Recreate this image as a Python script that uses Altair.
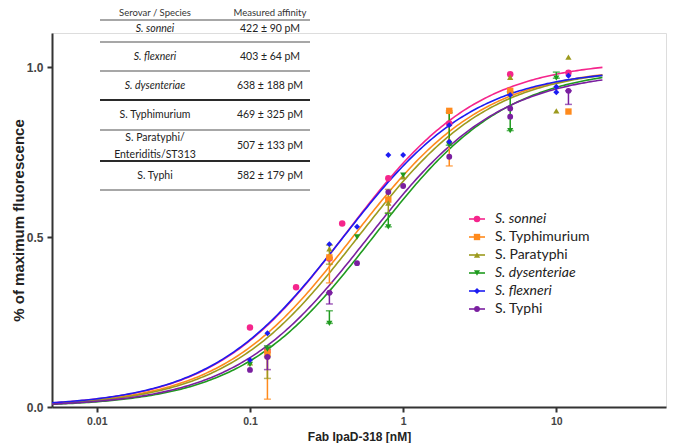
import altair as alt
import numpy as np
import pandas as pd

# ---------------- data ----------------
series = ["S. sonnei", "S. Typhimurium", "S. Paratyphi", "S. dysenteriae", "S. flexneri", "S. Typhi"]
colors = ["#F5258C", "#FF8A1C", "#9C9A1E", "#1F9B1F", "#1C1CF2", "#7A1FA0"]
shapes = ["circle", "square", "triangle-up", "triangle-down", "diamond", "circle"]
marker_sizes = [42, 34, 40, 40, 34, 62]
legend_italic = [True, False, False, True, True, False]

# one-site binding fit: Kd (nM, from the table) and plateau
kd_nM = [0.422, 0.469, 0.507, 0.638, 0.403, 0.582]
bmax = [1.02, 1.0, 1.0, 1.0, 0.995, 0.99]

# measured points (concentration nM, fraction of max fluorescence)
sonnei_conc = [0.1, 0.13, 0.2, 0.33, 0.4, 0.8, 2, 5, 12]
sonnei_val = [0.234, 0.165, 0.352, 0.437, 0.540, 0.673, 0.834, 0.979, 0.983]
typhimurium_conc = [0.13, 0.33, 0.8, 2, 5, 12]
typhimurium_val = [0.16, 0.44, 0.61, 0.871, 0.93, 0.869]
paratyphi_conc = [0.1, 0.13, 0.33, 0.8, 1.0, 2, 5, 10, 12]
paratyphi_val = [0.13, 0.15, 0.465, 0.60, 0.677, 0.785, 0.97, 0.871, 1.029]
dysenteriae_conc = [0.1, 0.13, 0.33, 0.5, 0.8, 1.0, 2, 5, 10]
dysenteriae_val = [0.125, 0.17, 0.246, 0.50, 0.53, 0.682, 0.77, 0.813, 0.967]
flexneri_conc = [0.1, 0.13, 0.33, 0.5, 0.8, 1.0, 2, 2, 5, 10, 10, 12]
flexneri_val = [0.138, 0.217, 0.479, 0.530, 0.741, 0.741, 0.829, 0.78, 0.918, 0.942, 0.926, 0.974]
typhi_conc = [0.1, 0.13, 0.33, 0.5, 0.8, 1.0, 2, 5, 5, 12]
typhi_val = [0.109, 0.147, 0.336, 0.423, 0.632, 0.65, 0.736, 0.878, 0.854, 0.93]

# error bars
err_series = ["S. Typhimurium", "S. Paratyphi", "S. Typhi", "S. dysenteriae",
              "S. Typhimurium", "S. Paratyphi", "S. dysenteriae", "S. Typhi",
              "S. Paratyphi", "S. dysenteriae", "S. Typhimurium", "S. dysenteriae",
              "S. dysenteriae", "S. dysenteriae", "S. Typhi"]
err_conc = [0.13, 0.13, 0.13, 0.13, 0.33, 0.33, 0.33, 0.33, 0.8, 0.8, 2, 2, 5, 10, 12]
err_lo = [0.023, 0.084, 0.11, 0.17, 0.365, 0.42, 0.246, 0.303, 0.57, 0.53, 0.709, 0.77, 0.813, 0.967, 0.89]
err_hi = [0.16, 0.15, 0.147, 0.18, 0.44, 0.476, 0.283, 0.336, 0.64, 0.57, 0.871, 0.866, 0.927, 0.985, 0.93]

# inset table
table_header = ["Serovar / Species", "Measured affinity"]
table_species = ["S. sonnei", "S. flexneri", "S. dysenteriae", "S.  Typhimurium",
                 "S. Paratyphi/\nEnteriditis/ST313", "S. Typhi"]
table_species_italic = [True, True, True, False, False, False]
table_affinity = ["422 ± 90 pM", "403 ± 64 pM", "638 ± 188 pM", "469 ± 325 pM",
                  "507 ± 133 pM", "582 ± 179 pM"]

x_title = "Fab IpaD-318 [nM]"
y_title = "% of maximum fluorescence"
x_ticks = [0.01, 0.1, 1, 10]
y_ticks = [0.0, 0.5, 1.0]

# ---------------- build tables ----------------
W, H = 614, 374
FONT_AX = "Liberation Sans"
FONT_TXT = "Lato"

grid = np.logspace(np.log10(0.0051), np.log10(20), 240)
curve_rows = []
for s, kd, bm in zip(series, kd_nM, bmax):
    for c in grid:
        curve_rows.append({"series": s, "conc": c, "val": bm * c / (kd + c)})
curve_df = pd.DataFrame(curve_rows)

pt_sets = [(sonnei_conc, sonnei_val), (typhimurium_conc, typhimurium_val),
           (paratyphi_conc, paratyphi_val), (dysenteriae_conc, dysenteriae_val),
           (flexneri_conc, flexneri_val), (typhi_conc, typhi_val)]
pts = []
for s, (cs, vs) in zip(series, pt_sets):
    for c, v in zip(cs, vs):
        pts.append({"series": s, "conc": c, "val": v})
pts_df = pd.DataFrame(pts)

err_df = pd.DataFrame({"series": err_series, "conc": err_conc, "lo": err_lo, "hi": err_hi})
cap_df = pd.concat([
    err_df[["series", "conc"]].assign(yv=err_df["lo"]),
    err_df[["series", "conc"]].assign(yv=err_df["hi"]),
])

xscale = alt.Scale(type="log", domain=[0.0051, 52], nice=False)
yscale = alt.Scale(domain=[0, 1.1], nice=False, zero=False)
cscale = alt.Scale(domain=series, range=colors)
shscale = alt.Scale(domain=series, range=shapes)
szscale = alt.Scale(domain=series, range=marker_sizes)

xaxis = alt.Axis(values=x_ticks, format="~g", grid=False, domainColor="#333", domainWidth=2,
                 tickColor="#333", tickWidth=2, tickSize=5, labelFont=FONT_AX, labelFontWeight="bold",
                 labelFontSize=10.5, labelColor="#444", labelPadding=4, labelFlush=False,
                 titleFont=FONT_AX, titleFontWeight="bold", titleFontSize=12, titleColor="#222",
                 titlePadding=5)
yaxis = alt.Axis(values=y_ticks, format=".1f", grid=False, domainColor="#333", domainWidth=2,
                 tickColor="#333", tickWidth=2, tickSize=5, labelFont=FONT_AX, labelFontWeight="bold",
                 labelFontSize=12, labelColor="#444", labelPadding=4,
                 titleFont=FONT_AX, titleFontWeight="bold", titleFontSize=15, titleColor="#222",
                 titleX=-29, titleBaseline="alphabetic")

curves = alt.Chart(curve_df).mark_line(strokeWidth=1.6).encode(
    x=alt.X("conc:Q", scale=xscale, axis=xaxis, title=x_title),
    y=alt.Y("val:Q", scale=yscale, axis=yaxis, title=y_title),
    color=alt.Color("series:N", scale=cscale, legend=None),
    order=alt.Order("conc:Q"),
)

err_rules = alt.Chart(err_df).mark_rule(strokeWidth=1.5).encode(
    x=alt.X("conc:Q", scale=xscale, axis=None),
    y=alt.Y("lo:Q", scale=yscale, axis=None),
    y2="hi:Q",
    color=alt.Color("series:N", scale=cscale, legend=None),
)
caps = alt.Chart(cap_df).mark_tick(orient="horizontal", size=7, thickness=1.5).encode(
    x=alt.X("conc:Q", scale=xscale, axis=None),
    y=alt.Y("yv:Q", scale=yscale, axis=None),
    color=alt.Color("series:N", scale=cscale, legend=None),
)

points = alt.Chart(pts_df).mark_point(filled=True, opacity=1).encode(
    x=alt.X("conc:Q", scale=xscale, axis=None),
    y=alt.Y("val:Q", scale=yscale, axis=None),
    color=alt.Color("series:N", scale=cscale, legend=None),
    shape=alt.Shape("series:N", scale=shscale, legend=None),
    size=alt.Size("series:O", scale=szscale, legend=None),
)

# ---------------- inset table (pixel positions relative to plot) ----------------
col1_x, col2_x = 103, 218
row_y = [-4, 24, 53, 82, 113, 143]
grey_lines = [-13, 9, 38, 97, 157]
dark_lines = [67, 128]
tx1, tx2 = 48, 258


def px(field):
    return alt.X(field, scale=None, axis=None)


def py(field):
    return alt.Y(field, scale=None, axis=None)


grey_df = pd.DataFrame({"y": grey_lines, "x1": tx1, "x2": tx2})
dark_df = pd.DataFrame({"y": dark_lines, "x1": tx1, "x2": tx2})
grey_rules = alt.Chart(grey_df).mark_rule(color="#8a8a8a", strokeWidth=1.5).encode(
    x=px("x1:Q"), x2="x2:Q", y=py("y:Q"))
dark_rules = alt.Chart(dark_df).mark_rule(color="#2a2a2a", strokeWidth=2).encode(
    x=px("x1:Q"), x2="x2:Q", y=py("y:Q"))

hdr_df = pd.DataFrame({"t": table_header, "x": [col1_x, col2_x], "y": [-17, -17]})
hdr = alt.Chart(hdr_df).mark_text(font=FONT_TXT, fontSize=9.5, color="#333", baseline="alphabetic",
                                  align="center").encode(x=px("x:Q"), y=py("y:Q"), text="t:N")

sp_df = pd.DataFrame({"t": table_species, "it": table_species_italic, "x": col1_x, "y": row_y})
sp_df["multi"] = sp_df["t"].str.contains("\n")
sp_it = alt.Chart(sp_df[sp_df["it"]]).mark_text(font=FONT_TXT, fontSize=10.5, fontStyle="italic",
                                                color="#222", baseline="middle", align="center").encode(
    x=px("x:Q"), y=py("y:Q"), text="t:N")
sp_no = alt.Chart(sp_df[~sp_df["it"] & ~sp_df["multi"]]).mark_text(
    font=FONT_TXT, fontSize=10.5, color="#222", baseline="middle", align="center").encode(
    x=px("x:Q"), y=py("y:Q"), text="t:N")
sp_multi = alt.Chart(sp_df[sp_df["multi"]]).mark_text(
    font=FONT_TXT, fontSize=10.5, color="#222", baseline="middle", align="center",
    lineBreak="\n", lineHeight=17, dy=-8.5).encode(
    x=px("x:Q"), y=py("y:Q"), text="t:N")
aff_df = pd.DataFrame({"t": table_affinity, "x": col2_x, "y": row_y})
aff = alt.Chart(aff_df).mark_text(font=FONT_TXT, fontSize=10.5, color="#222", baseline="middle",
                                  align="center").encode(x=px("x:Q"), y=py("y:Q"), text="t:N")

# ---------------- legend ----------------
leg_y = [186 + 18 * i for i in range(len(series))]
leg_df = pd.DataFrame({"series": series, "it": legend_italic, "y": leg_y,
                       "x1": 417, "x2": 433, "xm": 425, "xt": 443})
leg_lines = alt.Chart(leg_df).mark_rule(strokeWidth=1.6).encode(
    x=px("x1:Q"), x2="x2:Q", y=py("y:Q"),
    color=alt.Color("series:N", scale=cscale, legend=None))
leg_pts = alt.Chart(leg_df).mark_point(filled=True, opacity=1).encode(
    x=px("xm:Q"), y=py("y:Q"),
    color=alt.Color("series:N", scale=cscale, legend=None),
    shape=alt.Shape("series:N", scale=shscale, legend=None),
    size=alt.Size("series:O", scale=szscale, legend=None))
leg_txt_it = alt.Chart(leg_df[leg_df["it"]]).mark_text(font=FONT_TXT, fontSize=14, fontStyle="italic",
                                                       color="#222", align="left", baseline="middle").encode(
    x=px("xt:Q"), y=py("y:Q"), text="series:N")
leg_txt_no = alt.Chart(leg_df[~leg_df["it"]]).mark_text(font=FONT_TXT, fontSize=14, color="#222",
                                                        align="left", baseline="middle").encode(
    x=px("xt:Q"), y=py("y:Q"), text="series:N")

chart = alt.layer(
    curves, err_rules, caps, points,
    grey_rules, dark_rules, hdr, sp_it, sp_no, sp_multi, aff,
    leg_lines, leg_pts, leg_txt_it, leg_txt_no,
).resolve_scale(x="independent", y="independent").properties(
    width=W, height=H,
    autosize=alt.AutoSizeParams(type="none"),
    padding={"left": 44, "top": 25, "right": 5, "bottom": 36},
).configure_view(stroke=None).configure(background="white")

chart.save("out.html", embed_options={"renderer": "svg", "actions": False})
